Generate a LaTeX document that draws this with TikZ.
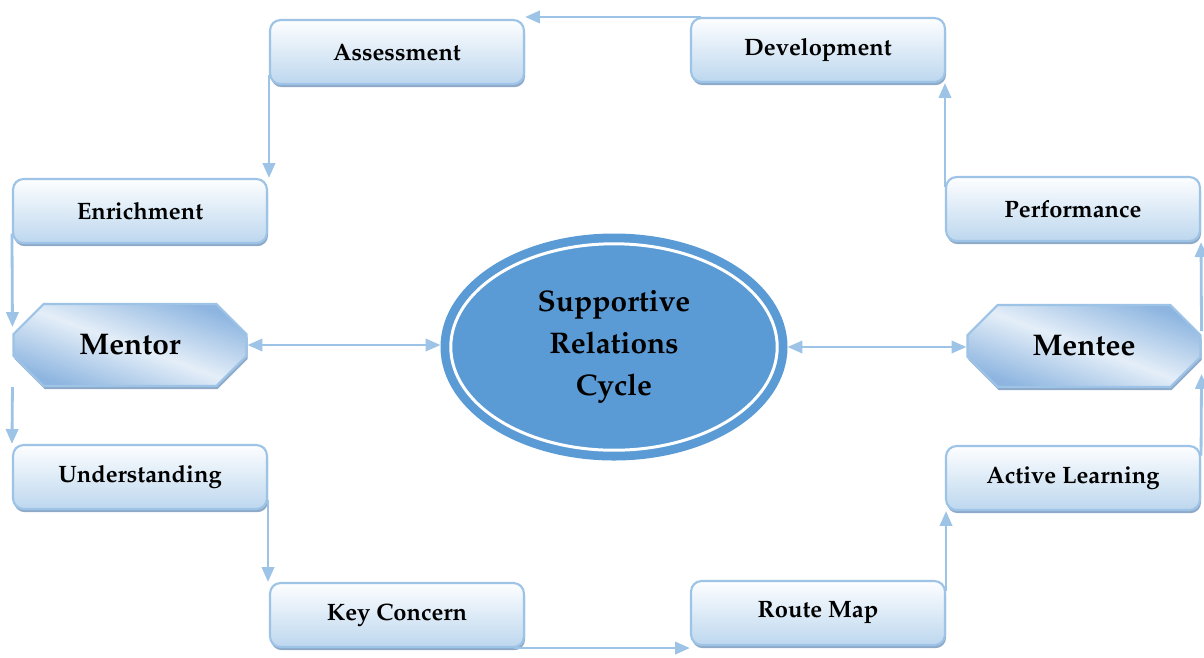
\documentclass[tikz,border=0pt]{standalone}
\usepackage[T1]{fontenc}
\renewcommand{\rmdefault}{ppl}
\usetikzlibrary{shapes.geometric,shapes.misc,arrows.meta,shadows,calc}

\definecolor{linkblue}{HTML}{9DC3E6}
\definecolor{boxtop}{HTML}{FDFEFF}
\definecolor{boxbottom}{HTML}{BDD7EE}
\definecolor{boxshade}{HTML}{8EAAC8}
\definecolor{rolefirm}{HTML}{8DB5E0}
\definecolor{rolepale}{HTML}{E4EEF8}
\definecolor{coreblue}{HTML}{5B9BD5}

\tikzset{
  stage/.style={rectangle, rounded corners=6pt, draw=linkblue, line width=1.2pt,
    top color=boxtop, bottom color=boxbottom,
    minimum width=5.08cm, minimum height=1.28cm,
    font=\fontsize{13.5}{16}\selectfont\bfseries,
    drop shadow={shadow xshift=0.6pt, shadow yshift=-1.8pt, fill=boxshade, opacity=1}},
  role/.style={chamfered rectangle, chamfered rectangle xsep=0.48cm,
    chamfered rectangle ysep=0.4cm, draw=linkblue, line width=1.2pt,
    top color=rolefirm, bottom color=rolefirm, middle color=rolepale, shading angle=-20,
    minimum width=4.66cm, minimum height=1.64cm, inner sep=0pt,
    font=\fontsize{17}{20}\selectfont\bfseries,
    drop shadow={shadow xshift=0.6pt, shadow yshift=-1.8pt, fill=boxshade, opacity=1}},
  core/.style={ellipse, fill=coreblue, draw=coreblue, line width=5pt,
    double=white, double distance=1.7pt, inner sep=0pt, outer sep=5.85pt,
    minimum width=6.53cm, minimum height=4.13cm, align=center,
    font=\fontsize{17}{24}\selectfont\bfseries},
  link/.style={draw=linkblue, line width=1.6pt, -{Triangle[length=8.5pt,width=7pt]}},
  twoway/.style={link, {Triangle[length=8.5pt,width=7pt]}-{Triangle[length=8.5pt,width=7pt]}}
}

\begin{document}
\begin{tikzpicture}[x=0.02cm, y=-0.02cm]
  \useasboundingbox (0,0) rectangle (1204,657);

  % centre of the cycle
  \node[core] (core) at (614,347) {Supportive\\Relations\\Cycle};

  % the two partners
  \node[role] (mentor) at (130,345) {Mentor};
  \node[role] (mentee) at (1084,346) {Mentee};

  % stages round the loop
  \node[stage] (assess) at (397,52) {Assessment};
  \node[stage] (dev) at (818,50) {Development};
  \node[stage] (enrich) at (140,211) {Enrichment};
  \node[stage] (perf) at (1073,209) {Performance};
  \node[stage] (under) at (140,477) {Understanding};
  \node[stage] (active) at (1073,478) {Active Learning};
  \node[stage] (key) at (397,615) {Key Concern};
  \node[stage] (route) at (818,613) {Route Map};

  % left half, going down
  \draw[link] ([xshift=6pt]dev.north west) -- (dev.north west -| assess.east);
  \draw[link] ([yshift=6pt]assess.south west) -- (assess.south west |- enrich.north);
  \draw[link] ([yshift=6pt]enrich.south west) -- ($(mentor.west)+(0,-18)$);
  \draw[link] (mentor.west |- mentor.south) -- (under.north west);
  \draw[link] ([yshift=6pt]under.south east) -- (under.south east |- key.north);
  \draw[link] ([xshift=-6pt]key.south east) -- (key.south east -| route.west);

  % right half, going up
  \draw[link] ([yshift=-6pt]route.north east) -- (route.north east |- active.south);
  \draw[link] ([yshift=-6pt]active.north east) -- ($(mentee.east)+(0,28)$);
  \draw[link] ($(mentee.east)+(0,-15)$) -- (perf.south east);
  \draw[link] ([yshift=-6pt]perf.north west) -- (perf.north west |- dev.south);

  % partners to the centre
  \draw[twoway] (mentor.east) -- (mentor.east -| core.west);
  \draw[twoway] (core.east) -- (core.east -| mentee.west);
\end{tikzpicture}
\end{document}
